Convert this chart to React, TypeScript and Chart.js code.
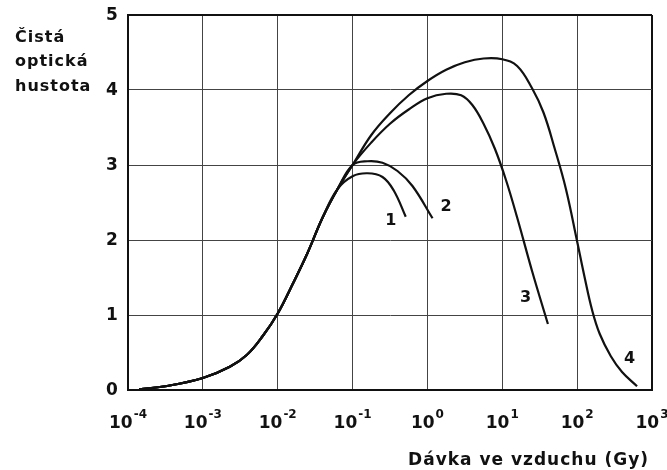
import React, { useEffect, useRef } from "react";
import { Chart, registerables } from "chart.js";

Chart.register(...registerables);

// Axis ticks
const xTickValues = [1e-4, 1e-3, 1e-2, 1e-1, 1e0, 1e1, 1e2, 1e3];
const xTickExponents = ["-4", "-3", "-2", "-1", "0", "1", "2", "3"];
const yTickValues = [0, 1, 2, 3, 4, 5];

// Shared rising part (dose in Gy, net optical density)
const riseDose = [1.41e-4, 3.16e-4, 1e-3, 2.29e-3, 3.89e-3, 6.31e-3, 0.01, 0.0158, 0.0251, 0.0398, 0.0631];
const riseOD = [0.01, 0.05, 0.16, 0.31, 0.47, 0.72, 1.02, 1.41, 1.83, 2.3, 2.68];

// Curve 1
const c1Dose = [0.1, 0.158, 0.251, 0.355, 0.513];
const c1OD = [2.85, 2.89, 2.84, 2.66, 2.31];

// Curve 2
const c2Dose = [0.1, 0.158, 0.251, 0.398, 0.631, 1.17];
const c2OD = [3.0, 3.05, 3.03, 2.92, 2.72, 2.29];

// Curve 3
const c3Dose = [0.1, 0.178, 0.316, 0.562, 1.0, 1.78, 2.82, 3.98, 5.62, 7.94, 11.2, 15.8, 25.1, 40.7];
const c3OD = [3.0, 3.3, 3.55, 3.74, 3.89, 3.95, 3.93, 3.8, 3.55, 3.22, 2.8, 2.3, 1.58, 0.88];

// Curve 4
const c4Dose = [0.1, 0.178, 0.316, 0.562, 1.0, 1.78, 3.16, 5.62, 10, 15.8, 25.1, 35.5, 50.1, 70.8, 100, 126, 158, 200, 282, 398, 631];
const c4OD = [3.0, 3.4, 3.69, 3.93, 4.12, 4.27, 4.37, 4.42, 4.41, 4.32, 4.02, 3.7, 3.22, 2.68, 1.98, 1.5, 1.07, 0.75, 0.45, 0.24, 0.05];

// Curve labels
const curveLabelText = ["1", "2", "3", "4"];
const curveLabelDose = [0.324, 1.78, 20.4, 501];
const curveLabelOD = [2.25, 2.44, 1.23, 0.41];

const yTitleLines = ["Čistá", "optická", "hustota"];
const xTitle = "Dávka ve vzduchu (Gy)";

const pts = (xs: number[], ys: number[]) => xs.map((x, i) => ({ x, y: ys[i] }));

const FONT = '"DejaVu Sans", "Liberation Sans", sans-serif';

const overlayPlugin = {
  id: "overlay",
  afterDraw(chart: any) {
    const { ctx, scales } = chart;
    const xs = scales.x;
    const ys = scales.y;
    ctx.save();
    ctx.fillStyle = "#111";
    ctx.textAlign = "left";
    ctx.textBaseline = "alphabetic";

    // x tick labels 10^n
    xTickValues.forEach((v, i) => {
      const px = xs.getPixelForValue(v);
      ctx.font = `bold 17px ${FONT}`;
      const w1 = ctx.measureText("10").width;
      ctx.font = `bold 12px ${FONT}`;
      const w2 = ctx.measureText(xTickExponents[i]).width;
      const start = px - (w1 + 1 + w2) / 2;
      ctx.font = `bold 17px ${FONT}`;
      ctx.fillText("10", start, 428);
      ctx.font = `bold 12px ${FONT}`;
      ctx.fillText(xTickExponents[i], start + w1 + 1, 418);
    });

    // y tick labels
    ctx.font = `bold 17px ${FONT}`;
    ctx.textAlign = "center";
    ctx.textBaseline = "middle";
    yTickValues.forEach((v) => {
      ctx.fillText(String(v), 112, ys.getPixelForValue(v) + 1);
    });

    // curve labels
    ctx.font = `bold 16px ${FONT}`;
    curveLabelText.forEach((t, i) => {
      ctx.fillText(t, xs.getPixelForValue(curveLabelDose[i]), ys.getPixelForValue(curveLabelOD[i]));
    });

    // axis titles
    ctx.textBaseline = "alphabetic";
    ctx.textAlign = "left";
    (ctx as any).letterSpacing = "1px";
    ctx.font = `bold 16px ${FONT}`;
    const baselines = [42, 66, 91];
    yTitleLines.forEach((t, i) => ctx.fillText(t, 15, baselines[i]));
    ctx.font = `bold 17px ${FONT}`;
    ctx.textAlign = "right";
    ctx.fillText(xTitle, 649, 465);
    (ctx as any).letterSpacing = "0px";
    ctx.restore();
  },
};

export default function App() {
  const ref = useRef<HTMLCanvasElement | null>(null);

  useEffect(() => {
    if (!ref.current) return;
    const lineStyle = {
      borderColor: "#111",
      borderWidth: 2.2,
      pointRadius: 0,
      fill: false,
      tension: 0.4,
    };
    const chart = new Chart(ref.current, {
      type: "line",
      data: {
        datasets: [
          { label: "1", data: pts([...riseDose, ...c1Dose], [...riseOD, ...c1OD]), ...lineStyle },
          { label: "2", data: pts([...riseDose, ...c2Dose], [...riseOD, ...c2OD]), ...lineStyle },
          { label: "3", data: pts([...riseDose, ...c3Dose], [...riseOD, ...c3OD]), ...lineStyle },
          { label: "4", data: pts([...riseDose, ...c4Dose], [...riseOD, ...c4OD]), ...lineStyle },
        ],
      },
      options: {
        animation: false,
        responsive: true,
        maintainAspectRatio: false,
        parsing: false as any,
        layout: { padding: { left: 0, right: 15, top: 15, bottom: 80 } },
        plugins: { legend: { display: false }, tooltip: { enabled: false } },
        scales: {
          x: {
            type: "logarithmic",
            min: 1e-4,
            max: 1e3,
            afterBuildTicks: (scale: any) => {
              scale.ticks = xTickValues.map((v) => ({ value: v }));
            },
            ticks: { display: false },
            grid: {
              drawTicks: false,
              color: (c: any) => (c.index === xTickValues.length - 1 ? "#111" : "#444"),
              lineWidth: (c: any) => (c.index === xTickValues.length - 1 ? 2 : 1),
            },
            border: { display: true, color: "#111", width: 2 },
          },
          y: {
            type: "linear",
            min: 0,
            max: 5,
            afterBuildTicks: (scale: any) => {
              scale.ticks = yTickValues.map((v) => ({ value: v }));
            },
            afterFit: (scale: any) => {
              scale.width = 128;
            },
            ticks: { display: false },
            grid: {
              drawTicks: false,
              color: (c: any) => (c.tick && c.tick.value === 5 ? "#111" : "#444"),
              lineWidth: (c: any) => (c.tick && c.tick.value === 5 ? 2 : 1),
            },
            border: { display: true, color: "#111", width: 2 },
          },
        },
      },
      plugins: [overlayPlugin],
    });
    return () => chart.destroy();
  }, []);

  return (
    <div style={{ position: "absolute", left: 0, top: 0, width: 667, height: 470, background: "#fff" }}>
      <canvas ref={ref} />
    </div>
  );
}
